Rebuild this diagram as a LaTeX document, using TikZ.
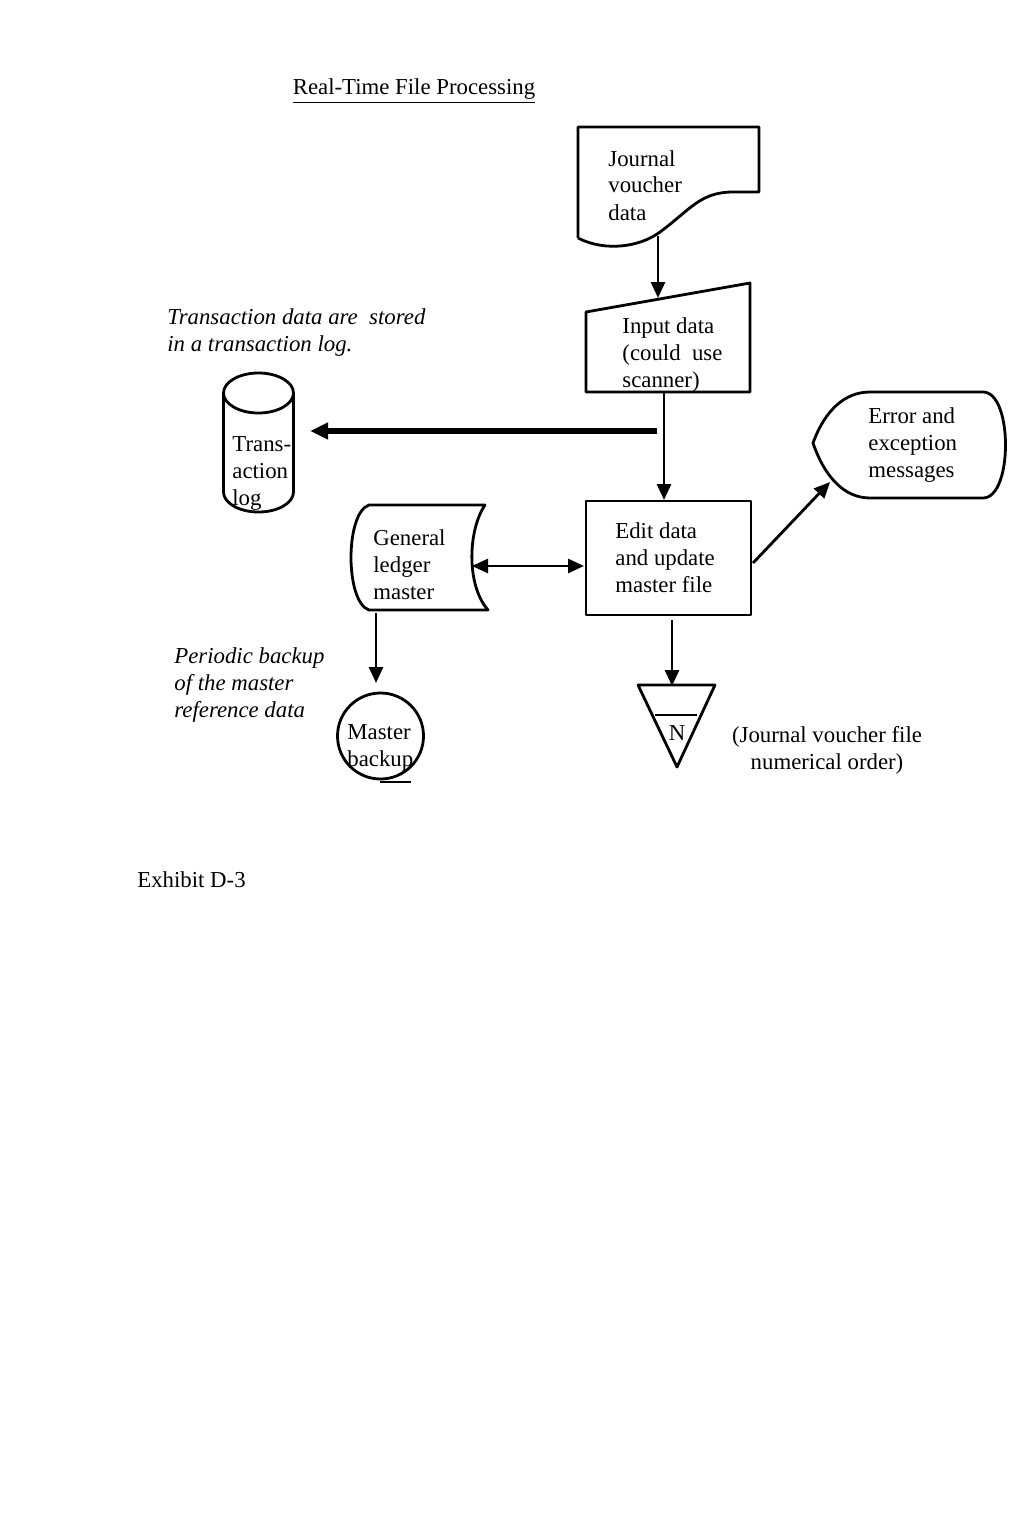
\documentclass[tikz,border=0pt]{standalone}
\usepackage{fontspec}
\setmainfont{Liberation Serif}
\usetikzlibrary{arrows.meta}
\begin{document}
\begin{tikzpicture}[x=0.5pt,y=-0.5pt,
  shp/.style={line width=1.4pt, line join=round},
  arr/.style={line width=1.4pt,-{Triangle[length=8pt,width=7pt]}},
  darr/.style={line width=1.4pt,{Triangle[length=8pt,width=7pt]}-{Triangle[length=8pt,width=7pt]}},
  thickarr/.style={line width=2.6pt,-{Triangle[length=9pt,width=8pt]}},
  txt/.style={anchor=base west, align=left, inner sep=0pt, font=\fontsize{11.4pt}{13.5pt}\selectfont},
  itxt/.style={txt, font=\fontsize{11.4pt}{13.5pt}\selectfont\itshape},
]
\useasboundingbox (0,0) rectangle (1024,1536);
\fill[white] (0,0) rectangle (1024,1536);

% title (base anchors below are at the last line's baseline)
\node[txt, anchor=base] (title) at (414,95) {\underline{Real-Time File Processing}};

% journal voucher document
\draw[shp] (578,238) -- (578,127) -- (759,127) -- (759,192) -- (733,192)
  .. controls (700,192) and (690,210) .. (660,232)
  .. controls (640,247) and (605,252) .. (578,238);
\node[txt] (jv) at (608,220) {Journal\\voucher\\data};
\coordinate (jvout) at (658,236);

% manual input
\draw[shp] (586,312) -- (750,283) -- (750,392) -- (586,392) -- cycle;
\node[txt] (inp) at (622,387) {Input data\\(could\ \ use\\scanner)};
\coordinate (inptop) at (658,298);
\coordinate (inpout) at (664,392);
\coordinate (inpleft) at (657,431);

% transaction log cylinder
\draw[shp] (258.5,393) ellipse [x radius=35, y radius=20];
\draw[shp] (223.5,393) -- (223.5,492) .. controls (223.5,503) and (239,512) .. (258.5,512)
  .. controls (278,512) and (293.5,503) .. (293.5,492) -- (293.5,393);
\node[txt] (tlog) at (232,505) {Trans-\\action\\log};
\coordinate (tlogin) at (310,431);
\node[itxt] (tnote) at (167,351) {Transaction data are\ \ stored\\in a transaction log.};

% general ledger master
\draw[shp] (369,505) -- (485,505) .. controls (468,530) and (466,585) .. (488,610)
  -- (369,610) .. controls (345,602) and (345,513) .. (369,505) -- cycle;
\node[txt] (gl) at (373,599) {General\\ledger\\master};
\coordinate (glright) at (472,566);
\coordinate (glbot) at (376,613);

% edit box
\node[shp, draw, minimum width=82.5pt, minimum height=57pt, inner sep=0pt] (edit) at (668.5,558) {};
\node[txt] (edittxt) at (615,592) {Edit data\\and update\\master file};
\coordinate (edittop) at (664,500);
\coordinate (editleft) at (584,566);
\coordinate (editright) at (753,563);
\coordinate (editbot) at (672,620);

% error display
\draw[shp] (813,443) .. controls (825,410) and (845,392) .. (870,392) -- (983,392)
  .. controls (1013,392) and (1013,498) .. (983,498) -- (870,498)
  .. controls (845,498) and (825,478) .. (813,443) -- cycle;
\node[txt] (err) at (868,477) {Error and\\exception\\messages};
\coordinate (errin) at (830,482);

% offline file triangle
\draw[shp] (638,685) -- (715,685) -- (677,767) -- cycle;
\draw[shp] (655,715) -- (697,715);
\node[txt, anchor=base] (N) at (677,740) {N};
\coordinate (filetop) at (672,686);
\node[txt, anchor=base, align=center] (fnote) at (827,769) {(Journal voucher file\\numerical order)};

% master backup tape
\draw[shp] (380.5,736) circle [radius=43];
\draw[shp] (380,782) -- (411,782);
\node[txt] (mb) at (347,766) {Master\\backup};
\coordinate (mbtop) at (376,683);
\node[itxt] (pnote) at (174,717) {Periodic backup\\of the master\\reference data};

% exhibit label
\node[txt] (exh) at (137,887) {Exhibit D-3};

% connectors
\draw[arr] (jvout) -- (inptop);
\draw[arr] (inpout) -- (edittop);
\draw[thickarr] (inpleft) -- (tlogin);
\draw[darr] (glright) -- (editleft);
\draw[arr] (editright) -- (errin);
\draw[arr] (editbot) -- (filetop);
\draw[arr] (glbot) -- (mbtop);
\end{tikzpicture}
\end{document}
